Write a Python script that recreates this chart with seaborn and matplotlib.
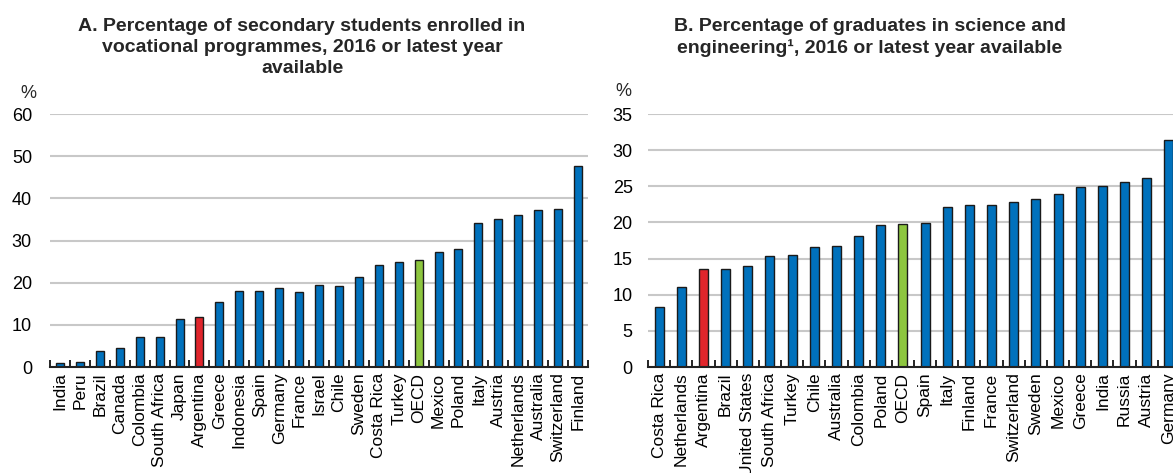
import numpy as np
import pandas as pd
import matplotlib
matplotlib.use("Agg")
import matplotlib.pyplot as plt
import seaborn as sns

# ---- Data ----
countries_a = ["India", "Peru", "Brazil", "Canada", "Colombia", "South Africa", "Japan",
               "Argentina", "Greece", "Indonesia", "Spain", "Germany", "France", "Israel",
               "Chile", "Sweden", "Costa Rica", "Turkey", "OECD", "Mexico", "Poland",
               "Italy", "Austria", "Netherlands", "Australia", "Switzerland", "Finland"]
values_a = [1.0, 1.3, 3.8, 4.4, 7.1, 7.1, 11.3, 11.8, 15.4, 18.1, 18.1, 18.8, 17.7, 19.5,
            19.3, 21.3, 24.2, 24.8, 25.4, 27.3, 28.1, 34.2, 35.0, 36.1, 37.2, 37.4, 47.7]

countries_b = ["Costa Rica", "Netherlands", "Argentina", "Brazil", "United States",
               "South Africa", "Turkey", "Chile", "Australia", "Colombia", "Poland", "OECD",
               "Spain", "Italy", "Finland", "France", "Switzerland", "Sweden", "Mexico",
               "Greece", "India", "Russia", "Austria", "Germany"]
values_b = [8.3, 11.1, 13.5, 13.6, 14.0, 15.35, 15.5, 16.6, 16.7, 18.1, 19.7, 19.8, 19.9,
            22.2, 22.4, 22.45, 22.8, 23.3, 23.9, 24.9, 25.1, 25.6, 26.2, 31.4]

yticks_a = [0, 10, 20, 30, 40, 50, 60]
yticks_b = [0, 5, 10, 15, 20, 25, 30, 35]

title_a = "A. Percentage of secondary students enrolled in\nvocational programmes, 2016 or latest year\navailable"
title_b = "B. Percentage of graduates in science and\nengineering\u00b9, 2016 or latest year available"

BLUE = "#0071BC"
RED = "#E0252B"
GREEN = "#8DC63F"

sns.set_theme(style="white")
plt.rcParams["font.family"] = ["Liberation Sans", "DejaVu Sans"]

W, H = 1173, 473
fig = plt.figure(figsize=(W / 100, H / 100), dpi=100)


def px_axes(left, right, top, bottom):
    return fig.add_axes([left / W, 1 - bottom / H, (right - left) / W, (bottom - top) / H])


def color_for(c):
    if c == "Argentina":
        return RED
    if c == "OECD":
        return GREEN
    return BLUE


def draw(ax, cats, vals, yticks, pad):
    df = pd.DataFrame({"country": cats, "value": vals})
    pal = {c: color_for(c) for c in cats}
    sns.barplot(data=df, x="country", y="value", hue="country", palette=pal,
                legend=False, width=0.4, edgecolor="#1a1a1a", linewidth=1.0,
                saturation=1, ax=ax, order=cats)
    n = len(cats)
    ax.set_xlim(-0.5, n - 0.5)
    ax.set_ylim(yticks[0], yticks[-1])
    ax.set_yticks(yticks)
    ax.set_yticklabels([str(t) for t in yticks], fontsize=13)
    ax.set_xticks(range(n))
    ax.set_xticklabels(cats, rotation=90, fontsize=12.5)
    ax.set_xticks(np.arange(n + 1) - 0.5, minor=True)
    ax.tick_params(axis="x", which="major", length=0, pad=4, colors="black")
    ax.tick_params(axis="x", which="minor", direction="in", length=5, width=1.2,
                   color="black", bottom=True)
    ax.tick_params(axis="y", length=0, pad=pad, colors="black")
    ax.set_xlabel("")
    ax.set_ylabel("")
    for y in yticks[1:]:
        ax.axhline(y, color="#c8c8c8", lw=1.5, zorder=0)
    for s in ["left", "right", "top"]:
        ax.spines[s].set_visible(False)
    ax.spines["bottom"].set_color("#222222")
    ax.spines["bottom"].set_linewidth(1.5)
    ax.set_axisbelow(True)
    ax.grid(False)


ax_a = px_axes(50, 588, 114, 367)
draw(ax_a, countries_a, values_a, yticks_a, 13)
ax_b = px_axes(648, 1180, 114, 367)
draw(ax_b, countries_b, values_b, yticks_b, 11)

fig.text(302 / W, 1 - 18 / H, title_a, ha="center", va="top", fontsize=14,
         fontweight="bold", linespacing=1.3)
fig.text(870 / W, 1 - 18 / H, title_b, ha="center", va="top", fontsize=14,
         fontweight="bold", linespacing=1.3)
fig.text(28 / W, 1 - 93 / H, "%", ha="center", va="center", fontsize=13)
fig.text(623 / W, 1 - 91 / H, "%", ha="center", va="center", fontsize=13)

fig.savefig("out.png", dpi=100, facecolor="white")
